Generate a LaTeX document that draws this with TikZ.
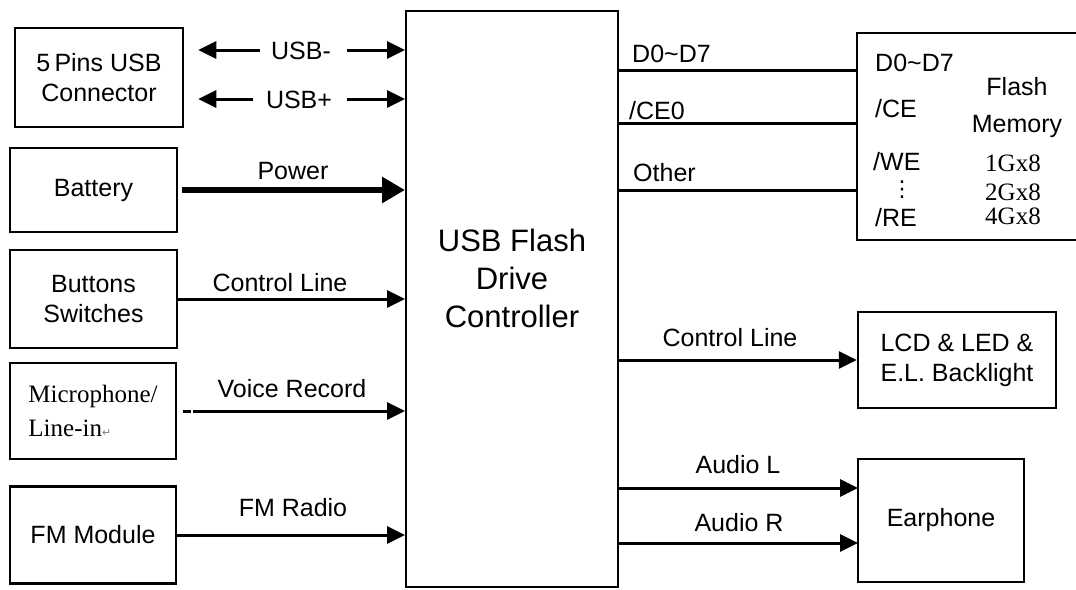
\documentclass[tikz,border=0pt]{standalone}
\usepackage{fontspec}
\setmainfont{Liberation Sans}
\newfontfamily\timesfont{Liberation Serif}
\newfontfamily\symfont{DejaVu Sans}
\usetikzlibrary{arrows.meta}

\begin{document}
\begin{tikzpicture}[x=1pt, y=-1pt,
    every node/.style={font=\fontsize{25}{30}\selectfont},
    box/.style={draw, line width=2.5pt, inner sep=0pt},
    lbl/.style={inner sep=0pt, text height=18pt, text depth=0pt},
    arr/.style={line width=3pt, -{Triangle[length=18pt, width=17pt]}},
    bus/.style={line width=3pt}]
    \useasboundingbox (0,0) rectangle (1076,589);
    \clip (0,0) rectangle (1076,589);
    \fill[white] (0,0) rectangle (1076,589);

    \node[box, minimum width=168pt, minimum height=99pt, align=center] (usb) at (99,77.5) {5\,Pins USB\\Connector};
    \node[box, minimum width=167pt, minimum height=84pt] (bat) at (93.5,190) {Battery};
    \node[box, minimum width=167pt, minimum height=98pt, align=center] (btn) at (93.5,299) {Buttons\\Switches};
    \node[box, minimum width=166pt, minimum height=96pt, align=left, font=\timesfont\fontsize{25}{34}\selectfont] (mic) at (93,411)
        {Microphone/\\Line-in{\symfont\fontsize{11}{11}\selectfont\color{gray}↵}};
    \node[box, minimum width=166pt, minimum height=97pt] (fm) at (93,535) {FM Module};

    \node[box, line width=2pt, minimum width=212pt, minimum height=576pt] (ctrl) at (512,299) {};
    \node[align=center, inner sep=0pt, font=\fontsize{31}{38}\selectfont] (ctrltxt) at (512,278) {USB Flash\\Drive\\Controller};

    \node[box, minimum width=243pt, minimum height=207pt] (flash) at (978.5,136.5) {};
    \node[lbl, anchor=west] (pd) at (875,62) {D0\textasciitilde D7};
    \node[lbl, anchor=west] (pce) at (875,108) {/CE};
    \node[lbl, anchor=west] (pwe) at (873,161) {/WE};
    \node[inner sep=0pt, font=\symfont\fontsize{22}{22}\selectfont] (pdots) at (902,190) {⋮};
    \node[lbl, anchor=west] (pre) at (875,217) {/RE};
    \node[align=center, inner sep=0pt, font=\fontsize{25}{37}\selectfont] (fname) at (1017,108) {Flash\\Memory};
    \node[lbl, font=\timesfont\fontsize{25}{30}\selectfont] (g1) at (1013,162) {1Gx8};
    \node[lbl, font=\timesfont\fontsize{25}{30}\selectfont] (g2) at (1013,191) {2Gx8};
    \node[lbl, font=\timesfont\fontsize{25}{30}\selectfont] (g4) at (1013,215) {4Gx8};

    \node[box, minimum width=198pt, minimum height=96pt, align=left] (lcd) at (957,360) {LCD \& LED \&\\E.L. Backlight};
    \node[box, minimum width=166pt, minimum height=123pt] (ear) at (941,520.5) {Earphone};

    \node[lbl] (usbm) at (301,50) {USB-};
    \node[lbl] (usbp) at (299,99) {USB+};
    \draw[arr, shorten <=11pt, shorten >=14pt] (usbm.west) -- (usbm.west -| usb.east);
    \draw[arr, shorten <=16pt] (usbm.east) -- (usbm.east -| ctrl.west);
    \draw[arr, shorten <=13pt, shorten >=14pt] (usbp.west) -- (usbp.west -| usb.east);
    \draw[arr, shorten <=15pt] (usbp.east) -- (usbp.east -| ctrl.west);

    \node[lbl] (lpow) at (293,170) {Power};
    \draw[arr, line width=6pt, -{Triangle[length=23pt, width=25pt]}, shorten <=4pt] (bat.east) -- (bat.east -| ctrl.west);
    \node[lbl] (lbtn) at (280,282) {Control Line};
    \draw[arr] (btn.east) -- (btn.east -| ctrl.west);
    \node[lbl] (lmic) at (292,388) {Voice Record};
    \draw[arr, dash pattern=on 8pt off 2pt on 400pt, shorten <=6pt] (mic.east) -- (mic.east -| ctrl.west);
    \node[lbl] (lfm) at (293,507) {FM Radio};
    \draw[arr] (fm.east) -- (fm.east -| ctrl.west);

    \coordinate (fd) at (857,70);
    \coordinate (fce) at (857,123);
    \coordinate (fot) at (857,190);
    \draw[bus] (fd -| ctrl.east) -- (fd);
    \draw[bus] (fce -| ctrl.east) -- (fce);
    \draw[bus] (fot -| ctrl.east) -- (fot);
    \node[lbl, anchor=west] (ld) at (632,53) {D0\textasciitilde D7};
    \node[lbl, anchor=west] (lce) at (629,110) {/CE0};
    \node[lbl, anchor=west] (lot) at (633,172) {Other};

    \draw[arr] (ctrl.east |- lcd) -- (lcd.west);
    \node[lbl] (llcd) at (730,337) {Control Line};
    \coordinate (al) at (858,488);
    \coordinate (ar) at (858,543);
    \draw[arr] (al -| ctrl.east) -- (al);
    \draw[arr] (ar -| ctrl.east) -- (ar);
    \node[lbl] (lal) at (738,464) {Audio L};
    \node[lbl] (lar) at (739,522) {Audio R};
\end{tikzpicture}
\end{document}
